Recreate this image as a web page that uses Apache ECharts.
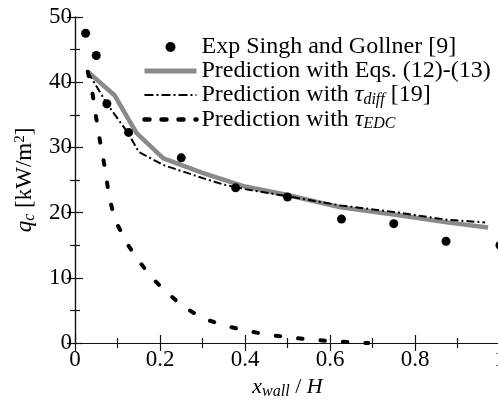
<!DOCTYPE html>
<html>
<head>
<meta charset="utf-8">
<script src="https://cdn.jsdelivr.net/npm/echarts@6/dist/echarts.min.js"></script>
<style>
html,body{margin:0;padding:0;background:#fff;}
#c{width:498px;height:405px;}
</style>
</head>
<body>
<div id="c"></div>
<script>
var expX = [0.025, 0.05, 0.075, 0.126, 0.25, 0.378, 0.5, 0.627, 0.75, 0.873, 1.0];
var expY = [47.5, 44.1, 36.7, 32.3, 28.4, 23.8, 22.4, 19.0, 18.3, 15.6, 15.0];

var eqX = [0.03, 0.093, 0.145, 0.208, 0.3, 0.4, 0.5, 0.625, 0.75, 0.875, 0.972];
var eqY = [41.6, 38.0, 32.2, 28.3, 26.1, 24.0, 22.7, 20.8, 19.7, 18.5, 17.7];

var diffX = [0.03, 0.075, 0.125, 0.15, 0.208, 0.3, 0.35, 0.4, 0.5, 0.625, 0.75, 0.875, 0.965];
var diffY = [41.6, 36.7, 32.2, 29.3, 27.3, 25.3, 24.3, 23.6, 22.5, 21.1, 20.1, 18.9, 18.5];

var edcX = [0.03, 0.04, 0.05, 0.06, 0.07, 0.08, 0.09, 0.1, 0.125, 0.15, 0.175, 0.2, 0.25, 0.3, 0.35, 0.4, 0.45, 0.5, 0.55, 0.6, 0.65, 0.69];
var edcY = [41.6, 38.8, 34.5, 30.5, 27.0, 22.6, 19.9, 18.1, 15.0, 12.6, 10.5, 8.75, 5.8, 3.8, 2.7, 1.95, 1.3, 0.9, 0.55, 0.3, 0.1, 0.0];

var seriesNames = ['Exp Singh and Gollner [9]', 'Prediction with Eqs. (12)-(13)', 'diff', 'EDC'];

function zip(xs, ys) { return xs.map(function (x, i) { return [x, ys[i]]; }); }

var FONT = 'Liberation Serif';
var chart = echarts.init(document.getElementById('c'));

var subStyle = { fontFamily: FONT, fontStyle: 'italic', fontSize: 16, padding: [9, 0, 0, 0], color: '#000' };
var NOFILL = 'rgba(0,0,0,0)';

var eqLine = { color: '#8a8a8a', width: 4.5, type: 'solid' };
var diffLine = { color: '#000', width: 2, type: [8, 3, 2, 3] };
var edcLine = { color: '#000', width: 4, type: [4.5, 18], cap: 'round' };

var axisCommon = {
  type: 'value',
  axisLine: { show: true, lineStyle: { color: '#111', width: 1.2 } },
  axisTick: { show: true, inside: true, length: 8, lineStyle: { color: '#111', width: 1.2 } },
  minorTick: { show: true, splitNumber: 2, length: 5, lineStyle: { color: '#111', width: 1.2 } },
  splitLine: { show: false }
};

chart.setOption({
  animation: false,
  backgroundColor: '#fff',
  textStyle: { fontFamily: FONT },
  grid: { left: 75, top: 17, width: 425, height: 326, outerBoundsMode: 'none', containLabel: false },
  legend: {
    orient: 'vertical',
    left: 137,
    top: 30,
    padding: 5,
    itemGap: 0,
    itemWidth: 52,
    itemHeight: 10,
    data: [
      { name: seriesNames[0], icon: 'circle' },
      { name: seriesNames[1], lineStyle: { width: 5, color: '#8a8a8a', type: 'solid' } },
      { name: seriesNames[2], lineStyle: { width: 2.2, color: '#000', type: [9, 3, 2, 3] } },
      { name: seriesNames[3], lineStyle: { width: 4.5, color: '#000', type: [5, 12], cap: 'round' } }
    ],
    textStyle: {
      fontFamily: FONT, fontSize: 24, color: '#000', lineHeight: 24,
      rich: {
        n: { fontFamily: FONT, fontSize: 24, color: '#000', lineHeight: 24 },
        g: { fontFamily: FONT, fontStyle: 'italic', fontSize: 24, color: '#000', lineHeight: 24 },
        s: subStyle
      }
    },
    formatter: function (name) {
      if (name === 'diff') return '{n|Prediction with }{g|τ}{s|diff}{n| [19]}';
      if (name === 'EDC') return '{n|Prediction with }{g|τ}{s|EDC}';
      return '{n|' + name + '}';
    }
  },
  xAxis: [
    Object.assign({}, axisCommon, {
      min: 0, max: 1, interval: 0.2, position: 'bottom',
      axisLabel: { show: true, fontFamily: FONT, fontSize: 23, color: '#000', margin: 5 },
      name: '{x|x}{s|wall}{n| / }{h|H}',
      nameLocation: 'middle',
      nameGap: 20,
      nameTextStyle: {
        rich: {
          x: { fontFamily: FONT, fontStyle: 'italic', fontSize: 22, color: '#000' },
          h: { fontFamily: FONT, fontStyle: 'italic', fontSize: 22, color: '#000' },
          n: { fontFamily: FONT, fontSize: 22, color: '#000' },
          s: { fontFamily: FONT, fontStyle: 'italic', fontSize: 16, color: '#000', padding: [10, 0, 0, 0] }
        }
      }
    }),
    Object.assign({}, axisCommon, {
      min: 0, max: 1, interval: 0.2, position: 'top',
      axisLabel: { show: false }
    })
  ],
  yAxis: [
    Object.assign({}, axisCommon, {
      min: 0, max: 50, interval: 10, position: 'left',
      axisLabel: { show: true, fontFamily: FONT, fontSize: 23, color: '#000', margin: 3 },
      name: '{q|q}{s|c}{n| [kW/m}{p|2}{n|]}',
      nameLocation: 'middle',
      nameRotate: 90,
      nameGap: 19,
      nameTextStyle: {
        rich: {
          q: { fontFamily: FONT, fontStyle: 'italic', fontSize: 23, color: '#000' },
          n: { fontFamily: FONT, fontSize: 23, color: '#000' },
          s: { fontFamily: FONT, fontStyle: 'italic', fontSize: 16, color: '#000', padding: [10, 0, 0, 0] },
          p: { fontFamily: FONT, fontSize: 15, color: '#000', padding: [0, 0, 10, 0] }
        }
      }
    }),
    Object.assign({}, axisCommon, {
      min: 0, max: 50, interval: 10, position: 'right',
      axisLabel: { show: false }
    })
  ],
  series: [
    {
      name: seriesNames[0], type: 'scatter', data: zip(expX, expY),
      symbol: 'circle', symbolSize: 9, itemStyle: { color: '#000', opacity: 1 }, z: 5
    },
    {
      name: seriesNames[1], type: 'line', data: zip(eqX, eqY), symbol: 'none',
      itemStyle: { color: NOFILL }, lineStyle: eqLine, z: 2
    },
    {
      name: seriesNames[2], type: 'line', data: zip(diffX, diffY), symbol: 'none',
      itemStyle: { color: NOFILL }, lineStyle: diffLine, z: 3
    },
    {
      name: seriesNames[3], type: 'line', data: zip(edcX, edcY), symbol: 'none',
      itemStyle: { color: NOFILL }, lineStyle: edcLine, z: 3
    }
  ]
});
</script>
</body>
</html>
